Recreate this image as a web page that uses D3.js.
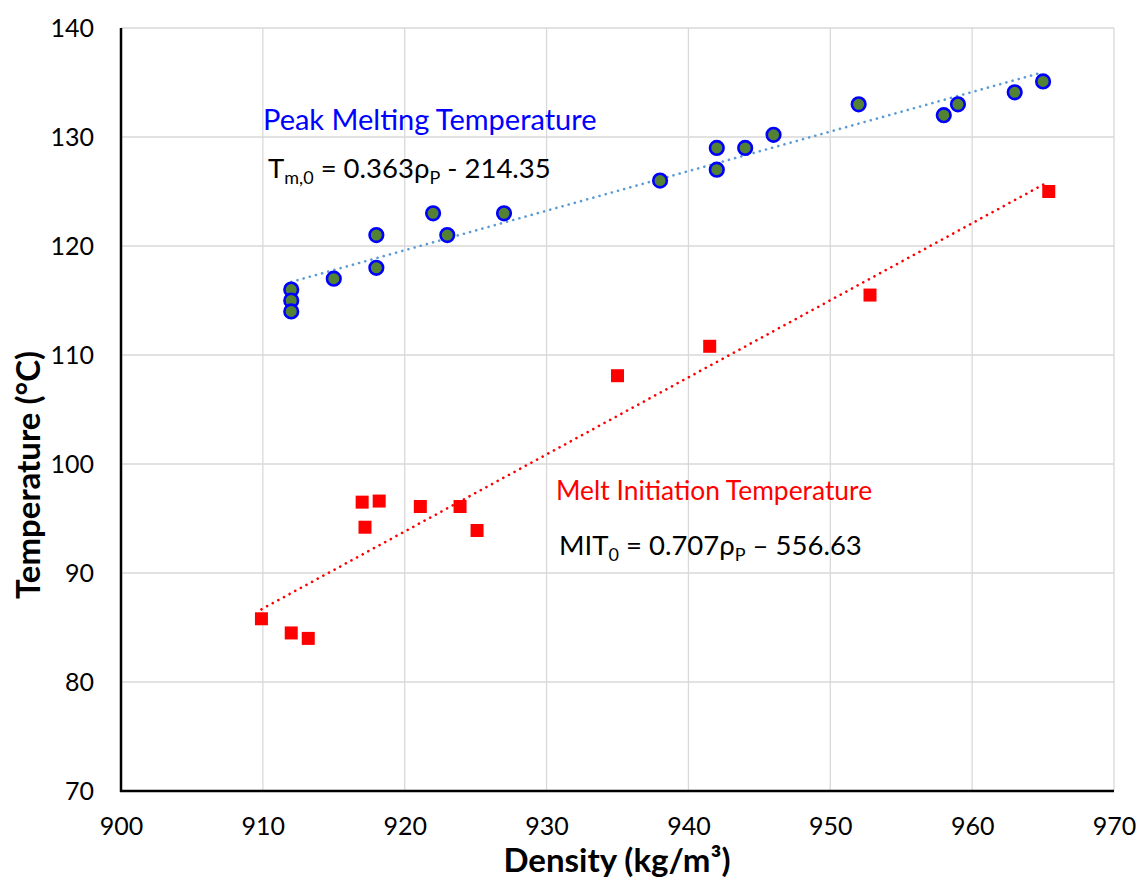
<!DOCTYPE html>
<meta charset="utf-8">
<script src="https://d3js.org/d3.v7.min.js"></script>
<style>
body {margin: 0; background: #fff;}
* {font-family: "Lato", "Open Sans", sans-serif;}
</style>
<div id="chart"></div>
<script>
// peak melting temperature (circles)
var peakX = [912, 912, 912, 915, 918, 918, 922, 923, 927, 938, 942, 942, 944, 946, 952, 958, 959, 963, 965];
var peakY = [116, 115, 114, 117, 121, 118, 123, 121, 123, 126, 129, 127, 129, 130.2, 133, 132, 133, 134.1, 135.1];
// melt initiation temperature (squares)
var mitX = [909.9, 912, 913.2, 917, 917.2, 918.2, 921.1, 923.9, 925.1, 935, 941.5, 952.8, 965.4];
var mitY = [85.8, 84.5, 84.0, 96.5, 94.2, 96.6, 96.1, 96.1, 93.9, 108.1, 110.8, 115.5, 125.0];
// linear fits shown on the chart
var peakFit = [0.363, -214.35];
var mitFit = [0.707, -556.63];
var xTicks = [900, 910, 920, 930, 940, 950, 960, 970];
var yTicks = [70, 80, 90, 100, 110, 120, 130, 140];

var width = 1140, height = 881;
var mLeft = 121, mRight = 1114, mTop = 28, mBottom = 791;

var svg = d3.select("#chart").append("svg")
	.attr("width", width)
	.attr("height", height);

var x = d3.scaleLinear().domain([900, 970]).range([mLeft, mRight]);
var y = d3.scaleLinear().domain([70, 140]).range([mBottom, mTop]);

// gridlines
svg.selectAll(".vgrid").data(xTicks.slice(1)).enter().append("line")
	.attr("x1", d => x(d)).attr("x2", d => x(d))
	.attr("y1", mTop).attr("y2", mBottom)
	.attr("stroke", "#d9d9d9").attr("stroke-width", 1.3);
svg.selectAll(".hgrid").data(yTicks.slice(1)).enter().append("line")
	.attr("x1", mLeft).attr("x2", mRight)
	.attr("y1", d => y(d)).attr("y2", d => y(d))
	.attr("stroke", "#d9d9d9").attr("stroke-width", 1.3);

// axes (labels only, lines drawn below)
var xAxis = svg.append("g")
	.attr("transform", "translate(0," + mBottom + ")")
	.call(d3.axisBottom(x).tickValues(xTicks).tickSize(0).tickPadding(26));
var yAxis = svg.append("g")
	.attr("transform", "translate(" + mLeft + ",0)")
	.call(d3.axisLeft(y).tickValues(yTicks).tickSize(0).tickPadding(27));
[xAxis, yAxis].forEach(function(g) {
	g.select(".domain").remove();
	g.selectAll("text").attr("font-size", 25).attr("fill", "#000")
		.style("font-family", "Lato, sans-serif");
});

svg.append("line")
	.attr("x1", mLeft).attr("x2", mLeft).attr("y1", mTop).attr("y2", mBottom + 1)
	.attr("stroke", "#000").attr("stroke-width", 2.5);
svg.append("line")
	.attr("x1", mLeft - 1).attr("x2", mRight).attr("y1", mBottom).attr("y2", mBottom)
	.attr("stroke", "#000").attr("stroke-width", 2.5);

// trendlines
function fitLine(xs, fit, color) {
	var x0 = d3.min(xs), x1 = d3.max(xs);
	svg.append("line")
		.attr("x1", x(x0)).attr("y1", y(fit[0] * x0 + fit[1]))
		.attr("x2", x(x1)).attr("y2", y(fit[0] * x1 + fit[1]))
		.attr("stroke", color).attr("stroke-width", 2.6)
		.attr("stroke-linecap", "round")
		.attr("stroke-dasharray", "0.1 6.3");
}
fitLine(peakX, peakFit, "#5b9bd5");
fitLine(mitX, mitFit, "#ff0000");

// markers
svg.selectAll(".peak").data(peakX).enter().append("circle")
	.attr("cx", d => x(d))
	.attr("cy", (d, i) => y(peakY[i]))
	.attr("r", 6.8)
	.attr("fill", "#548235")
	.attr("stroke", "#0000ff")
	.attr("stroke-width", 2.6);

var sq = 13;
svg.selectAll(".mit").data(mitX).enter().append("rect")
	.attr("x", d => x(d) - sq / 2)
	.attr("y", (d, i) => y(mitY[i]) - sq / 2)
	.attr("width", sq).attr("height", sq)
	.attr("fill", "#ff0000");

// annotations
svg.append("text").attr("x", 263).attr("y", 130)
	.attr("font-size", 29).attr("fill", "#0000ff")
	.text("Peak Melting Temperature");
var eq1 = svg.append("text").attr("x", 268).attr("y", 178)
	.attr("font-size", 27.5).attr("fill", "#000");
eq1.append("tspan").text("T");
eq1.append("tspan").attr("font-size", 18).attr("dy", 6).text("m,0");
eq1.append("tspan").attr("dy", -6).text(" = 0.363ρ");
eq1.append("tspan").attr("font-size", 18).attr("dy", 6).text("P");
eq1.append("tspan").attr("dy", -6).text(" - 214.35");

svg.append("text").attr("x", 556).attr("y", 500)
	.attr("font-size", 26.4).attr("fill", "#ff0000")
	.text("Melt Initiation Temperature");
var eq2 = svg.append("text").attr("x", 559).attr("y", 555)
	.attr("font-size", 27.5).attr("fill", "#000");
eq2.append("tspan").text("MIT");
eq2.append("tspan").attr("font-size", 18).attr("dy", 6).text("0");
eq2.append("tspan").attr("dy", -6).text(" = 0.707ρ");
eq2.append("tspan").attr("font-size", 18).attr("dy", 6).text("P");
eq2.append("tspan").attr("dy", -6).text(" – 556.63");

// axis titles
svg.append("text")
	.attr("x", 617).attr("y", 872)
	.attr("text-anchor", "middle")
	.attr("font-size", 33).attr("font-weight", "bold")
	.text("Density (kg/m³)");
svg.append("text")
	.attr("transform", "translate(40,475) rotate(-90)")
	.attr("text-anchor", "middle")
	.attr("font-size", 33).attr("font-weight", "bold")
	.text("Temperature (°C)");
</script>
